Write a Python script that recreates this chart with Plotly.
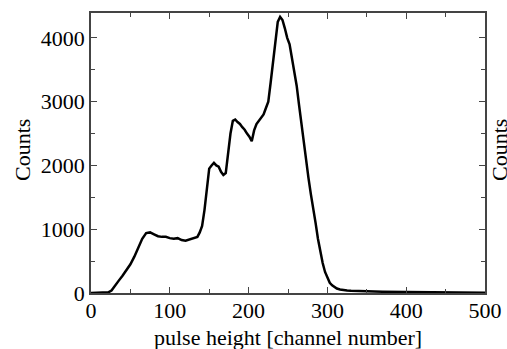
import plotly.graph_objects as go

channel = [0, 10, 18, 22, 26, 30, 35, 40, 45, 50, 55, 60, 65, 70, 75, 80, 85, 90, 95, 100,
           105, 110, 115, 120, 125, 130, 135, 138, 141, 144, 147, 150, 153, 156, 159, 162,
           165, 168, 171, 174, 177, 180, 183, 186, 189, 192, 195, 198, 201, 204, 207, 210,
           213, 216, 219, 222, 225, 228, 231, 234, 237, 240, 243, 246, 249, 252, 255, 258,
           261, 264, 267, 270, 273, 276, 279, 282, 285, 288, 291, 294, 297, 300, 303, 306,
           309, 312, 316, 320, 325, 330, 340, 350, 370, 400, 430, 460, 500]
counts = [0, 0, 0, 10, 40, 100, 190, 270, 360, 450, 570, 700, 850, 940, 950, 920, 890, 880, 880, 860,
          850, 860, 830, 820, 840, 860, 880, 950, 1050, 1300, 1650, 1950, 2000, 2040, 2000, 1980,
          1900, 1850, 1880, 2200, 2500, 2700, 2720, 2680, 2650, 2600, 2560, 2500, 2450, 2380, 2550, 2650,
          2700, 2760, 2800, 2900, 3000, 3300, 3650, 4000, 4250, 4330, 4280, 4150, 4000, 3900, 3700, 3500,
          3250, 2950, 2650, 2400, 2100, 1800, 1550, 1350, 1100, 850, 650, 470, 330, 230, 160, 120,
          90, 70, 55, 45, 40, 35, 30, 25, 20, 15, 10, 8, 5]

x_title = "pulse height [channel number]"
y_title = "Counts"

FONT = "Liberation Serif"
FS = 22

fig = go.Figure(go.Scatter(x=channel, y=counts, mode="lines",
                           line=dict(color="black", width=2.5), showlegend=False))

axis_common = dict(showline=True, linecolor="#444", linewidth=1.5, mirror="ticks",
                   ticks="inside", ticklen=6, tickcolor="#444", tickwidth=1,
                   showgrid=False, zeroline=False, automargin=False,
                   tickfont=dict(family=FONT, size=FS, color="black"))

fig.update_xaxes(range=[0, 500], dtick=100, tick0=0,
                 minor=dict(dtick=50, ticks="inside", ticklen=4, tickcolor="#444"),
                 ticklabelstandoff=-3, **axis_common)
fig.update_yaxes(range=[0, 4390], dtick=1000, tick0=0,
                 minor=dict(dtick=500, ticks="inside", ticklen=4, tickcolor="#444"),
                 ticklabelstandoff=0, **axis_common)

title_font = dict(family=FONT, size=FS, color="black")
fig.add_annotation(text=x_title, xref="paper", yref="paper", x=0.5, y=0, yshift=-44,
                   xanchor="center", yanchor="middle", showarrow=False, font=title_font)
fig.add_annotation(text=y_title, xref="paper", yref="paper", x=0, y=0.5, xshift=-69, yshift=3,
                   xanchor="center", yanchor="middle", textangle=-90, showarrow=False, font=title_font)
fig.add_annotation(text=y_title, xref="paper", yref="paper", x=1.0, y=0.5, xshift=14, yshift=3,
                   xanchor="center", yanchor="middle", textangle=-90, showarrow=False, font=title_font)

fig.update_layout(width=507, height=349, margin=dict(l=91, r=22, t=13, b=56),
                  plot_bgcolor="white", paper_bgcolor="white")

fig.write_html("out.html")
